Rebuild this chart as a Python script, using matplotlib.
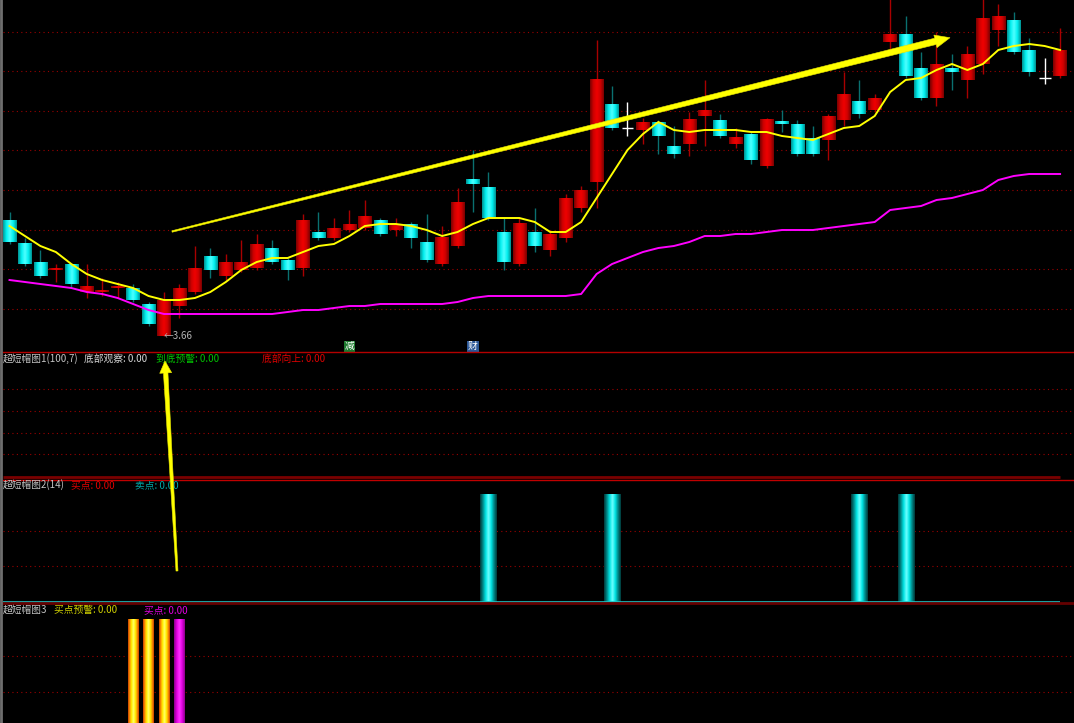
import numpy as np
import matplotlib
matplotlib.use("Agg")
import matplotlib.pyplot as plt
from matplotlib.colors import LinearSegmentedColormap
from matplotlib.patches import Polygon
from matplotlib.lines import Line2D

plt.rcParams['font.family'] = ['Noto Sans CJK SC', 'DejaVu Sans']

# ---- data ----
opens = [4.24, 4.12, 4.03, 3.99, 4.02, 3.88, 3.88, 3.90, 3.90, 3.82,
         3.66, 3.81, 3.88, 4.06, 3.96, 3.99, 4.00, 4.10, 4.04, 4.00,
         4.18, 4.15, 4.19, 4.20, 4.24, 4.19, 4.22, 4.13, 4.02, 4.11,
         4.44, 4.40, 4.18, 4.02, 4.18, 4.09, 4.15, 4.30, 4.43, 4.82,
         4.70, 4.69, 4.73, 4.61, 4.62, 4.76, 4.74, 4.62, 4.67, 4.51,
         4.73, 4.72, 4.65, 4.64, 4.74, 4.83, 4.79, 5.13, 5.17, 5.00,
         4.85, 5.00, 4.94, 5.02, 5.19, 5.24, 5.09, 4.95, 4.96]
highs = [4.28, 4.15, 4.09, 4.02, 4.02, 4.02, 3.95, 3.93, 3.92, 3.83,
         3.88, 3.92, 4.11, 4.10, 4.07, 4.14, 4.17, 4.14, 4.05, 4.27,
         4.28, 4.25, 4.29, 4.34, 4.25, 4.25, 4.23, 4.27, 4.21, 4.40,
         4.59, 4.48, 4.25, 4.25, 4.30, 4.19, 4.37, 4.41, 5.14, 4.91,
         4.83, 4.75, 4.74, 4.71, 4.78, 4.94, 4.77, 4.70, 4.68, 4.75,
         4.79, 4.74, 4.71, 4.77, 4.98, 4.94, 4.87, 5.36, 5.26, 5.08,
         5.18, 5.07, 5.11, 5.35, 5.32, 5.28, 5.15, 5.05, 5.20]
lows = [4.12, 4.01, 3.95, 3.93, 3.90, 3.85, 3.86, 3.85, 3.83, 3.71,
        3.66, 3.75, 3.87, 3.95, 3.94, 3.98, 3.99, 4.02, 3.94, 3.96,
        4.14, 4.14, 4.18, 4.19, 4.16, 4.16, 4.10, 4.03, 4.01, 4.10,
        4.28, 4.24, 3.99, 4.01, 4.08, 4.06, 4.13, 4.28, 4.30, 4.69,
        4.66, 4.62, 4.57, 4.55, 4.56, 4.61, 4.65, 4.60, 4.52, 4.50,
        4.68, 4.56, 4.56, 4.54, 4.71, 4.75, 4.78, 5.09, 4.95, 4.84,
        4.81, 4.89, 4.85, 4.97, 5.11, 5.07, 4.96, 4.92, 4.95]
closes = [4.13, 4.02, 3.96, 4.00, 3.92, 3.91, 3.89, 3.91, 3.84, 3.72,
          3.84, 3.90, 4.00, 3.99, 4.03, 4.03, 4.12, 4.03, 3.99, 4.24,
          4.15, 4.20, 4.22, 4.26, 4.17, 4.22, 4.15, 4.04, 4.15, 4.33,
          4.42, 4.25, 4.03, 4.22, 4.11, 4.17, 4.35, 4.39, 4.94, 4.70,
          4.70, 4.73, 4.66, 4.57, 4.74, 4.79, 4.66, 4.65, 4.54, 4.74,
          4.72, 4.57, 4.57, 4.76, 4.87, 4.77, 4.85, 5.17, 4.96, 4.85,
          5.02, 4.98, 5.07, 5.25, 5.26, 5.08, 4.98, 4.95, 5.09]
ma_fast = [4.21, 4.16, 4.11, 4.08, 4.02, 3.97, 3.94, 3.92, 3.90, 3.86,
           3.84, 3.84, 3.85, 3.88, 3.93, 3.99, 4.03, 4.05, 4.05, 4.08,
           4.11, 4.12, 4.16, 4.21, 4.22, 4.22, 4.21, 4.19, 4.16, 4.18,
           4.22, 4.25, 4.25, 4.25, 4.23, 4.18, 4.18, 4.23, 4.35, 4.47,
           4.59, 4.67, 4.73, 4.69, 4.68, 4.69, 4.69, 4.69, 4.68, 4.68,
           4.66, 4.65, 4.64, 4.67, 4.70, 4.71, 4.76, 4.88, 4.94, 4.95,
           4.99, 5.02, 4.99, 5.02, 5.09, 5.11, 5.12, 5.11, 5.09]
ma_slow = [3.94, 3.93, 3.92, 3.91, 3.90, 3.88, 3.87, 3.85, 3.82, 3.79,
           3.77, 3.77, 3.77, 3.77, 3.77, 3.77, 3.77, 3.77, 3.78, 3.79,
           3.79, 3.80, 3.81, 3.81, 3.82, 3.82, 3.82, 3.82, 3.82, 3.83,
           3.85, 3.86, 3.86, 3.86, 3.86, 3.86, 3.86, 3.87, 3.97, 4.02,
           4.05, 4.08, 4.10, 4.11, 4.13, 4.16, 4.16, 4.17, 4.17, 4.18,
           4.19, 4.19, 4.19, 4.20, 4.21, 4.22, 4.23, 4.29, 4.30, 4.31,
           4.34, 4.35, 4.37, 4.39, 4.44, 4.46, 4.47, 4.47, 4.47]
low_mark = 3.66
event_idx = [22, 30]
event_labels = ['减', '财']
sell_idx = [31, 39, 55, 58]        # 超短帽图2 signal columns
warn_idx = [8, 9, 10]              # 超短帽图3 买点预警
buy_idx = [11]                     # 超短帽图3 买点

n = len(closes)
idx = np.arange(n)

# ---- layout helpers (pixel -> figure fraction) ----
W, H = 1074, 723
STEP, FIRST = 15.45, 9.5
fig = plt.figure(figsize=(W / 100, H / 100), dpi=100, facecolor='black')


def fx(px):
    return px / W


def fy(py):
    return 1 - py / H


def panel(top, bottom):
    ax = fig.add_axes([fx(3), fy(bottom), fx(W) - fx(3), fy(top) - fy(bottom)])
    ax.set_axis_off()
    return ax


def dotted(ax, ys):
    for y in ys:
        ax.axhline(y, color='#9a0000', lw=0.8, linestyle=(0, (1, 3)), zorder=1)


def gradient_bar(ax, x, w, y0, y1, cmap):
    grad = np.linspace(0, 1, 64).reshape(1, -1)
    ax.imshow(grad, cmap=cmap, extent=(x - w / 2, x + w / 2, y0, y1),
              aspect='auto', interpolation='bilinear', zorder=3)


red_cm = LinearSegmentedColormap.from_list('r', ['#7a0000', '#d00000', '#f00000', '#d00000', '#7a0000'])
cyan_cm = LinearSegmentedColormap.from_list('c', ['#009090', '#00f0f0', '#50ffff', '#00f0f0', '#009090'])
col_cm = LinearSegmentedColormap.from_list('t', ['#003838', '#008888', '#00e4e4', '#70ffff', '#00e4e4', '#008888', '#003838'])
yel_cm = LinearSegmentedColormap.from_list('y', ['#c83c00', '#ff9a00', '#fff000', '#ffff70', '#fff000', '#ff9a00', '#c83c00'])
mag_cm = LinearSegmentedColormap.from_list('m', ['#8a008a', '#e000e0', '#ff30ff', '#e000e0', '#8a008a'])

xlim = ((3 - FIRST) / STEP, (W - FIRST) / STEP)

# ---- main K-line panel ----
ax = panel(0, 352)
dotted(ax, np.linspace(3.7965, 5.1815, 8))
for i in range(n):
    o, h, l, c = opens[i], highs[i], lows[i], closes[i]
    if c > o:
        ax.vlines(i, l, h, color='#a80000', lw=1, zorder=2)
        gradient_bar(ax, i, 0.88, o, c, red_cm)
    elif c < o:
        ax.vlines(i, l, h, color='#0a7070', lw=1, zorder=2)
        gradient_bar(ax, i, 0.88, c, o, cyan_cm)
    else:
        ax.vlines(i, l, h, color='white', lw=1, zorder=2)
        ax.hlines(o, i - 0.38, i + 0.38, color='white', lw=1, zorder=2)
ax.plot(idx, ma_slow, color='#ff00ff', lw=1.4, zorder=4)
ax.plot(idx, ma_fast, color='#ffff00', lw=1.4, zorder=4)
ax.text(int(np.argmin(lows)) - 0.05, low_mark, '←' + f'{low_mark:.2f}', color='#b4b4b4',
        fontsize=7, va='center', ha='left', zorder=5)
for i, lab, bg in zip(event_idx, event_labels, ['#1c7a2e', '#2b5797']):
    ax.text(i, 3.608, lab, color='white', fontsize=7, ha='center', va='center', zorder=5,
            bbox=dict(boxstyle='square,pad=0.08', fc=bg, ec='none'))
ax.set_xlim(xlim)
ax.set_ylim(3.58, 5.34)

# ---- 超短帽图1 ----
ax1 = panel(352, 480)
dotted(ax1, np.linspace(0.201, 0.709, 4))
ax1.hlines(0.027, xlim[0], n - 1, color='#7a0000', lw=2)
ax1.set_xlim(xlim)
ax1.set_ylim(0, 1)

# ---- 超短帽图2 ----
ax2 = panel(480, 604)
dotted(ax2, [0.329, 0.659])
for i in sell_idx:
    gradient_bar(ax2, i, 1.04, 0, 1, col_cm)
ax2.hlines(0, xlim[0], n - 1, color='#20c0c0', lw=1.2, zorder=4)
ax2.set_xlim(xlim)
ax2.set_ylim(-0.0213, 1.130)

# ---- 超短帽图3 ----
ax3 = panel(604, H)
dotted(ax3, [0.328, 0.659])
for i in warn_idx:
    gradient_bar(ax3, i, 0.66, 0, 1, yel_cm)
for i in buy_idx:
    gradient_bar(ax3, i, 0.66, 0, 1, mag_cm)
ax3.set_xlim(xlim)
ax3.set_ylim(0.037, 1.142)

# ---- separators and border ----
for y, c, lw in [(352.3, '#b40000', 1), (479.6, '#c00000', 1), (603.4, '#640000', 2)]:
    fig.add_artist(Line2D([fx(3), 1], [fy(y)] * 2, color=c, lw=lw, transform=fig.transFigure))
fig.add_artist(Line2D([fx(1.2)] * 2, [0, 1], color='#6e6e6e', lw=2, transform=fig.transFigure))

# ---- panel titles ----
titles = [
    (359, [(3, '超短帽图1(100,7)', '#c4c4c4'), (84, '底部观察: 0.00', '#d8d8d8'),
           (156, '到底预警: 0.00', '#00c400'), (262, '底部向上: 0.00', '#e00000')]),
    (485, [(3, '超短帽图2(14)', '#c4c4c4'), (71, '买点: 0.00', '#e00000'),
           (135, '卖点: 0.00', '#00a8a8')]),
    (610, [(3, '超短帽图3', '#c4c4c4'), (54, '买点预警: 0.00', '#d0d000'),
           (144, '买点: 0.00', '#e000e0')]),
]
for y, items in titles:
    for x, s, c in items:
        fig.text(fx(x), fy(y), s, color=c, fontsize=7, va='center', ha='left')


# ---- hand-drawn yellow arrows ----
def tapered_arrow(p0, p1, w0, w1, head_len, head_w):
    p0, p1 = np.array(p0, float), np.array(p1, float)
    u = (p1 - p0) / np.hypot(*(p1 - p0))
    nv = np.array([-u[1], u[0]])
    base = p1 - u * head_len
    pts = [p0 + nv * w0 / 2, base + nv * w1 / 2, base + nv * head_w / 2, p1,
           base - nv * head_w / 2, base - nv * w1 / 2, p0 - nv * w0 / 2]
    pts = [(fx(px), fy(py)) for px, py in pts]
    fig.add_artist(Polygon(pts, closed=True, transform=fig.transFigure,
                           fc='#ffff00', ec='#e6e600', lw=0.4, zorder=10))


tapered_arrow((172, 231.5), (950, 37.7), 1.5, 6.5, 15, 13)
tapered_arrow((177, 571), (165, 361), 2.0, 4.5, 12, 12)

fig.savefig('out.png', dpi=100, facecolor='black')
